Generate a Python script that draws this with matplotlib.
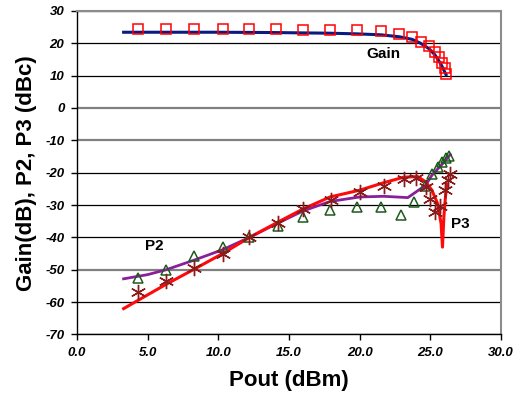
import matplotlib
matplotlib.use("Agg")
import matplotlib.pyplot as plt

plt.rcParams['font.family'] = ['Liberation Sans', 'DejaVu Sans']
plt.rcParams['axes.unicode_minus'] = False

# measured gain (squares) and simulated gain (line)
gain_x = [4.3, 6.3, 8.3, 10.3, 12.2, 14.1, 16.0, 17.9, 19.8, 21.5, 22.8, 23.7,
          24.3, 24.9, 25.3, 25.6, 25.8, 26.0, 26.1]
gain_y = [24.5, 24.5, 24.5, 24.5, 24.4, 24.3, 24.2, 24.1, 24.0, 23.8, 23.0, 21.9,
          20.5, 19.0, 17.3, 15.7, 13.9, 12.2, 10.4]
gain_sim_x = [3.3, 6.0, 10.0, 14.0, 17.9, 19.8, 21.5, 22.8, 23.7, 24.3, 24.9, 25.3, 25.6, 25.8, 26.1]
gain_sim_y = [23.4, 23.4, 23.4, 23.3, 23.1, 22.9, 22.6, 22.0, 21.2, 20.0, 18.3, 16.5, 14.5, 13.0, 10.3]

# measured P2 (triangles) and simulated P2 (line)
p2_x = [4.3, 6.3, 8.3, 10.3, 12.2, 14.2, 16.0, 17.9, 19.8, 21.5, 22.9, 23.8,
        24.6, 25.1, 25.5, 25.8, 26.1, 26.3]
p2_y = [-52.4, -50.0, -45.7, -43.1, -40.0, -36.5, -33.7, -31.4, -30.6, -30.6, -33.2, -29.0,
        -24.2, -20.3, -18.2, -16.6, -15.6, -14.7]
p2_sim_x = [3.3, 5.0, 6.3, 8.3, 10.3, 12.2, 14.2, 16.0, 17.9, 20.0, 21.7, 23.4, 24.65, 25.1, 25.8, 26.4]
p2_sim_y = [-52.8, -51.5, -50.0, -47.0, -43.8, -40.0, -35.6, -31.8, -28.9, -27.5, -27.3, -27.7, -23.9, -20.8, -17.5, -14.4]

# measured P3 (asterisks) and simulated P3 (line)
p3_x = [4.3, 6.3, 8.3, 10.3, 12.2, 14.2, 16.0, 18.0, 20.0, 21.7, 23.1, 23.95,
        24.65, 25.0, 25.35, 25.65, 26.05, 26.25, 26.35]
p3_y = [-57.0, -53.5, -49.4, -45.0, -39.8, -35.4, -31.3, -28.3, -26.1, -24.1, -22.0, -21.5,
        -24.3, -28.2, -32.2, -30.4, -25.5, -22.4, -20.3]
p3_sim_x = [3.3, 6.3, 8.3, 10.3, 12.2, 14.2, 16.0, 17.9, 20.0, 21.7, 23.1, 24.1, 24.65,
            25.1, 25.5, 25.75, 25.85, 25.95, 26.05, 26.15]
p3_sim_y = [-62.0, -54.5, -49.8, -45.0, -40.0, -35.3, -31.2, -27.5, -25.4, -23.1, -21.4, -21.2, -22.8,
            -25.4, -29.5, -35.7, -43.0, -33.5, -28.0, -23.5]

fig = plt.figure(figsize=(5.27, 4.03), dpi=100)
ax = fig.add_axes([0.146, 0.170, 0.805, 0.803])

ax.plot(gain_sim_x, gain_sim_y, color='#0a1a80', lw=2.2, zorder=3)
ax.plot(gain_x, gain_y, ls='none', marker='s', ms=7.8, mfc='none', mec='red', mew=1.1, zorder=4)

ax.plot(p2_sim_x, p2_sim_y, color='#8a1f9a', lw=2.0, zorder=3)
ax.plot(p3_sim_x, p3_sim_y, color='#ff0a0a', lw=2.2, zorder=3)

ax.plot(p2_x, p2_y, ls='none', marker='^', ms=7.5, mfc='none', mec='#1e5a1e', mew=1.1, zorder=4)
ax.plot(p3_x, p3_y, ls='none', marker=(6, 2, 0), ms=11, color='#8b1a1a', mew=1.0, zorder=4)

ax.text(21.7, 16.6, 'Gain', fontsize=11, fontweight='bold', ha='center', va='center')
ax.text(5.5, -42.7, 'P2', fontsize=11, fontweight='bold', ha='center', va='center')
ax.text(27.1, -35.9, 'P3', fontsize=11, fontweight='bold', ha='center', va='center')

ax.set_xlim(0, 30)
ax.set_ylim(-70, 30)
ax.set_xticks(range(0, 31, 5))
ax.set_xticklabels([f'{v:.1f}' for v in range(0, 31, 5)])
ax.set_yticks(range(-70, 31, 10))

for lbl in ax.get_xticklabels() + ax.get_yticklabels():
    lbl.set_fontstyle('italic')
    lbl.set_fontweight('bold')
    lbl.set_fontsize(9.5)

ax.tick_params(direction='out', length=4, width=1, pad=5)
ax.yaxis.grid(True, color='black', lw=0.9)
ax.set_axisbelow(True)
for gl, v in zip(ax.get_ygridlines(), ax.get_yticks()):
    if v in (0, -10, -50):
        gl.set_color('#808080')
        gl.set_linewidth(1.6)

for s in ('left', 'bottom'):
    ax.spines[s].set_color('black')
    ax.spines[s].set_linewidth(1.0)
for s in ('top', 'right'):
    ax.spines[s].set_color('#8c8c8c')
    ax.spines[s].set_linewidth(1.5)

ax.set_xlabel('Pout (dBm)', fontsize=16, fontweight='bold', labelpad=8)
ax.set_ylabel('Gain(dB), P2, P3 (dBc)', fontsize=16, fontweight='bold', labelpad=6)

fig.savefig('out.png', dpi=100)
